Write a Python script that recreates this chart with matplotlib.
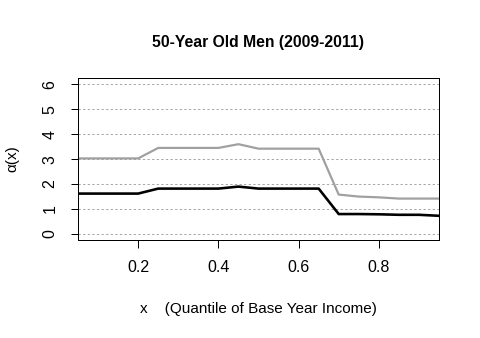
import numpy as np
import matplotlib
matplotlib.use("Agg")
import matplotlib.pyplot as plt

plt.rcParams["font.family"] = ["Liberation Sans", "DejaVu Sans"]

# quantile grid and the two alpha(x) curves
quantiles = [0.05, 0.10, 0.15, 0.20, 0.25, 0.30, 0.35, 0.40, 0.45, 0.50,
             0.55, 0.60, 0.65, 0.70, 0.75, 0.80, 0.85, 0.90, 0.95]
alpha_upper = [3.03, 3.03, 3.03, 3.03, 3.45, 3.45, 3.45, 3.45, 3.60, 3.42,
               3.42, 3.42, 3.42, 1.58, 1.50, 1.47, 1.42, 1.42, 1.42]
alpha_lower = [1.62, 1.62, 1.62, 1.62, 1.82, 1.82, 1.82, 1.82, 1.90, 1.82,
               1.82, 1.82, 1.82, 0.80, 0.80, 0.79, 0.77, 0.77, 0.73]

x_ticks = [0.2, 0.4, 0.6, 0.8]
y_ticks = [0, 1, 2, 3, 4, 5, 6]

W, H = 480, 338
fig = plt.figure(figsize=(W / 100, H / 100), dpi=100)
ax = fig.add_axes([78 / W, 1 - 240 / H, (439 - 78) / W, (240 - 78.3) / H])

px = 0.72  # points per pixel at dpi 100

for yv in y_ticks:
    ax.axhline(yv, color="#a8a8a8", lw=1 * px, linestyle=(0, (2.3, 2.3)), zorder=1)

ax.plot(quantiles, alpha_upper, color="#a0a0a0", lw=2.2 * px, zorder=2)
ax.plot(quantiles, alpha_lower, color="black", lw=2.6 * px, zorder=3)

ax.set_xlim(0.05, 0.95)
ax.set_ylim(-0.24, 6.24)
ax.set_xticks(x_ticks)
ax.set_xticklabels([f"{t:.1f}" for t in x_ticks])
ax.set_yticks(y_ticks)
ax.set_yticklabels([str(t) for t in y_ticks], rotation=90, va="center")
ax.tick_params(axis="both", length=7.5 * px, width=1 * px, labelsize=16 * px,
               color="black")
ax.tick_params(axis="x", pad=13 * px)
ax.tick_params(axis="y", pad=13 * px)
for s in ax.spines.values():
    s.set_linewidth(1 * px)

fig.text((78 + 439) / 2 / W, 1 - 43 / H, "50-Year Old Men (2009-2011)",
         ha="center", va="center", fontsize=15.8 * px, fontweight="bold")
fig.text((78 + 439) / 2 / W, 1 - 309 / H, "x    (Quantile of Base Year Income)",
         ha="center", va="center", fontsize=15.3 * px)
fig.text(12.5 / W, 1 - 159 / H, "α(x)", rotation=90,
         ha="center", va="center", fontsize=15.3 * px)

fig.savefig("out.png", dpi=100)
